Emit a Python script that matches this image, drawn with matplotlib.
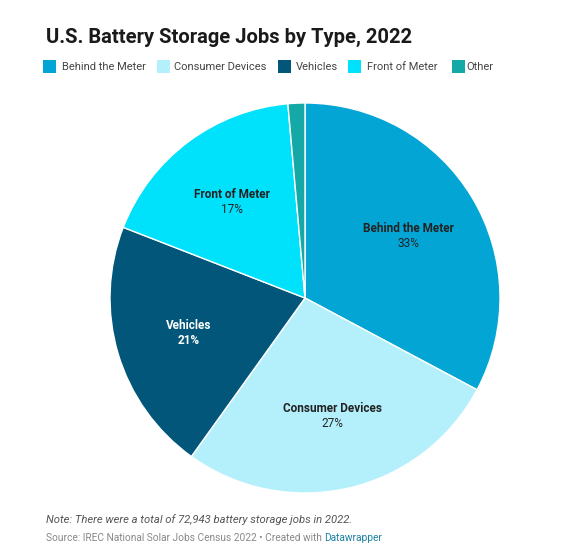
import matplotlib
matplotlib.use("Agg")
import matplotlib.pyplot as plt
from matplotlib.patches import Rectangle
import numpy as np

categories = ["Behind the Meter", "Consumer Devices", "Vehicles", "Front of Meter", "Other"]
shares = [32.8, 27.1, 21.0, 17.7, 1.4]
pct_labels = ["33%", "27%", "21%", "17%", ""]
colors = ["#03a5d4", "#b4f0fb", "#02567a", "#00e1fc", "#14a8a6"]
label_colors = ["#222222", "#222222", "#ffffff", "#222222", "#222222"]

W, H = 563, 556
fig = plt.figure(figsize=(W / 100, H / 100), dpi=100)
fig.patch.set_facecolor("white")
plt.rcParams["font.family"] = ["Roboto", "DejaVu Sans"]

def fx(x):
    return x / W

def fy(y):
    return 1 - y / H

# Title
fig.text(fx(46), fy(37), "U.S. Battery Storage Jobs by Type, 2022", fontsize=14.5,
         fontweight="bold", color="#1a1a1a", va="center", ha="left")

# Legend
sq_x = [43, 157, 278, 348, 452]
txt_x = [62, 174, 296, 367, 466]
for i, cat in enumerate(categories):
    fig.patches.append(Rectangle((fx(sq_x[i]), fy(73)), 13 / W, 13 / H,
                                 transform=fig.transFigure, facecolor=colors[i],
                                 edgecolor="none"))
    fig.text(fx(txt_x[i]), fy(67), cat, fontsize=8, color="#444444",
             va="center", ha="left")

# Pie
cx, cy, r = 305, 298, 195
ax = fig.add_axes([fx(cx - r), fy(cy + r), 2 * r / W, 2 * r / H])
wedges, _ = ax.pie(shares, colors=colors, startangle=90, counterclock=False,
                   wedgeprops=dict(edgecolor="white", linewidth=1))
ax.set_xlim(-1, 1)
ax.set_ylim(-1, 1)
ax.set_aspect("equal")
ax.axis("off")

cum = np.cumsum([0] + shares)
for i, cat in enumerate(categories):
    if not pct_labels[i]:
        continue
    mid = (cum[i] + cum[i + 1]) / 2 / 100 * 360
    ang = np.deg2rad(90 - mid)
    rr = 0.62
    x, y = rr * np.cos(ang), rr * np.sin(ang)
    ax.text(x, y + 0.035, cat, ha="center", va="center", fontsize=8.5,
            fontweight="bold", color=label_colors[i])
    ax.text(x, y - 0.04, pct_labels[i], ha="center", va="center", fontsize=8.5,
            fontweight="bold" if label_colors[i] == "#ffffff" else "normal",
            color=label_colors[i])

# Footer
fig.text(fx(46), fy(520), "Note: There were a total of 72,943 battery storage jobs in 2022.",
         fontsize=8.1, style="italic", color="#555555", va="center", ha="left")
src = fig.text(fx(46), fy(538), "Source: IREC National Solar Jobs Census 2022 \u2022 Created with ",
               fontsize=7.3, color="#888888", va="center", ha="left")
fig.canvas.draw()
bb = src.get_window_extent()
fig.text(bb.x1 / W, fy(538), "Datawrapper", fontsize=7.3, color="#1d81a2",
         va="center", ha="left")

fig.savefig("out.png", dpi=100, facecolor="white")
